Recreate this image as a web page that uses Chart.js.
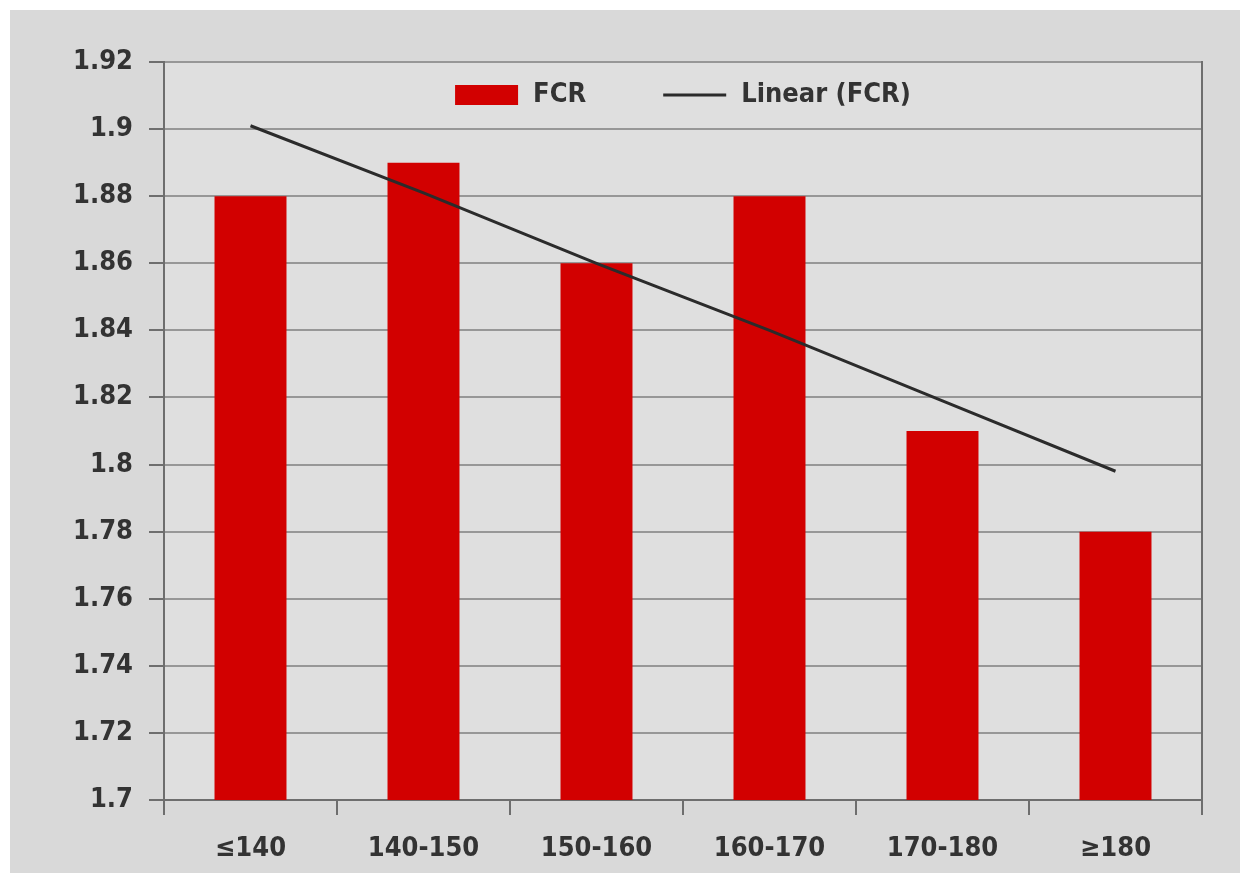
<!DOCTYPE html>
<html>
<head>
<meta charset="utf-8">
<script src="https://cdn.jsdelivr.net/npm/chart.js@4.4.1/dist/chart.umd.min.js"></script>
<style>
  html, body { margin: 0; padding: 0; background: #ffffff; }
  #panel { position: absolute; left: 10px; top: 10px; width: 1230px; height: 863px; background: #d9d9d9; }
  canvas { display: block; }
</style>
</head>
<body>
<div id="panel"><canvas id="fcrChart" width="1230" height="863"></canvas></div>
<script>
// ===========================
// DATA
// ===========================
const categories = ["≤140", "140-150", "150-160", "160-170", "170-180", "≥180"];
const fcrValues = [1.88, 1.89, 1.86, 1.88, 1.81, 1.78];
const trendValues = [1.901, 1.881, 1.860, 1.840, 1.819, 1.798];
const yMin = 1.7;
const yMax = 1.92;
const yStep = 0.02;

const fontFamily = '"DejaVu Sans Condensed", "Liberation Sans Narrow", sans-serif';
const textColor = "#333333";
const axisColor = "#6e6e6e";
const labelFont = { family: fontFamily, size: 27, weight: "bold" };

// ===========================
// PLUGINS
// ===========================
// lighter fill behind the plot area
const plotBackground = {
    id: "plotBackground",
    beforeDraw(chart) {
        const { ctx, chartArea: a } = chart;
        ctx.save();
        ctx.fillStyle = "#dfdfdf";
        ctx.fillRect(a.left, a.top, a.right - a.left, a.bottom - a.top);
        ctx.restore();
    }
};

// legend drawn inside the top of the plot area
const insideLegend = {
    id: "insideLegend",
    afterDraw(chart) {
        const { ctx, chartArea: a } = chart;
        const items = chart.data.datasets;
        const boxW = 63, boxH = 20, gap = 15, itemGap = 77;

        ctx.save();
        ctx.font = "bold 27px " + fontFamily;
        const widths = items.map(d => boxW + gap + ctx.measureText(d.label).width);
        const total = widths.reduce((s, w) => s + w, 0) + itemGap * (items.length - 1);
        let x = (a.left + a.right) / 2 - total / 2;
        const y = a.top + 33;

        items.forEach((d, i) => {
            if (d.type === "line") {
                ctx.strokeStyle = d.borderColor;
                ctx.lineWidth = d.borderWidth;
                ctx.beginPath();
                ctx.moveTo(x, y);
                ctx.lineTo(x + boxW, y);
                ctx.stroke();
            } else {
                ctx.fillStyle = d.backgroundColor;
                ctx.fillRect(x, y - boxH / 2, boxW, boxH);
            }
            ctx.fillStyle = textColor;
            ctx.textBaseline = "middle";
            ctx.textAlign = "left";
            ctx.fillText(d.label, x + boxW + gap, y);
            x += widths[i] + itemGap;
        });
        ctx.restore();
    }
};

// ===========================
// CHART
// ===========================
const ctx = document.getElementById("fcrChart").getContext("2d");

new Chart(ctx, {
    type: "bar",
    data: {
        labels: categories,
        datasets: [
            {
                type: "bar",
                label: "FCR",
                data: fcrValues,
                backgroundColor: "#d20000",
                borderWidth: 0,
                barPercentage: 0.416,
                categoryPercentage: 1,
                order: 1
            },
            {
                type: "line",
                label: "Linear (FCR)",
                data: trendValues,
                borderColor: "#2b2b2b",
                borderWidth: 3,
                pointRadius: 0,
                tension: 0,
                fill: false,
                order: 0
            }
        ]
    },
    options: {
        responsive: false,
        animation: false,
        devicePixelRatio: 1,
        layout: { padding: { top: 52, right: 38, bottom: 0, left: 0 } },
        plugins: {
            legend: { display: false },
            tooltip: { enabled: false }
        },
        scales: {
            x: {
                grid: {
                    display: true,
                    offset: true,
                    drawOnChartArea: false,
                    drawTicks: true,
                    tickLength: 15,
                    tickColor: axisColor,
                    lineWidth: 2
                },
                border: { display: true, color: axisColor, width: 2 },
                ticks: { color: textColor, font: labelFont, padding: 18, maxRotation: 0, autoSkip: false },
                afterFit(scale) { scale.height = 73; }
            },
            y: {
                min: yMin,
                max: yMax,
                ticks: {
                    stepSize: yStep,
                    color: textColor,
                    font: labelFont,
                    padding: 16,
                    callback: v => String(+v.toFixed(2))
                },
                grid: { color: "#979797", lineWidth: 2, tickLength: 15, tickColor: axisColor },
                border: { display: true, color: axisColor, width: 2 },
                afterFit(scale) { scale.width = 154; }
            },
            y2: {
                position: "right",
                min: yMin,
                max: yMax,
                ticks: { display: false },
                grid: { display: false },
                border: { display: true, color: axisColor, width: 2 },
                afterFit(scale) { scale.width = 0; }
            }
        }
    },
    plugins: [plotBackground, insideLegend]
});
</script>
</body>
</html>
